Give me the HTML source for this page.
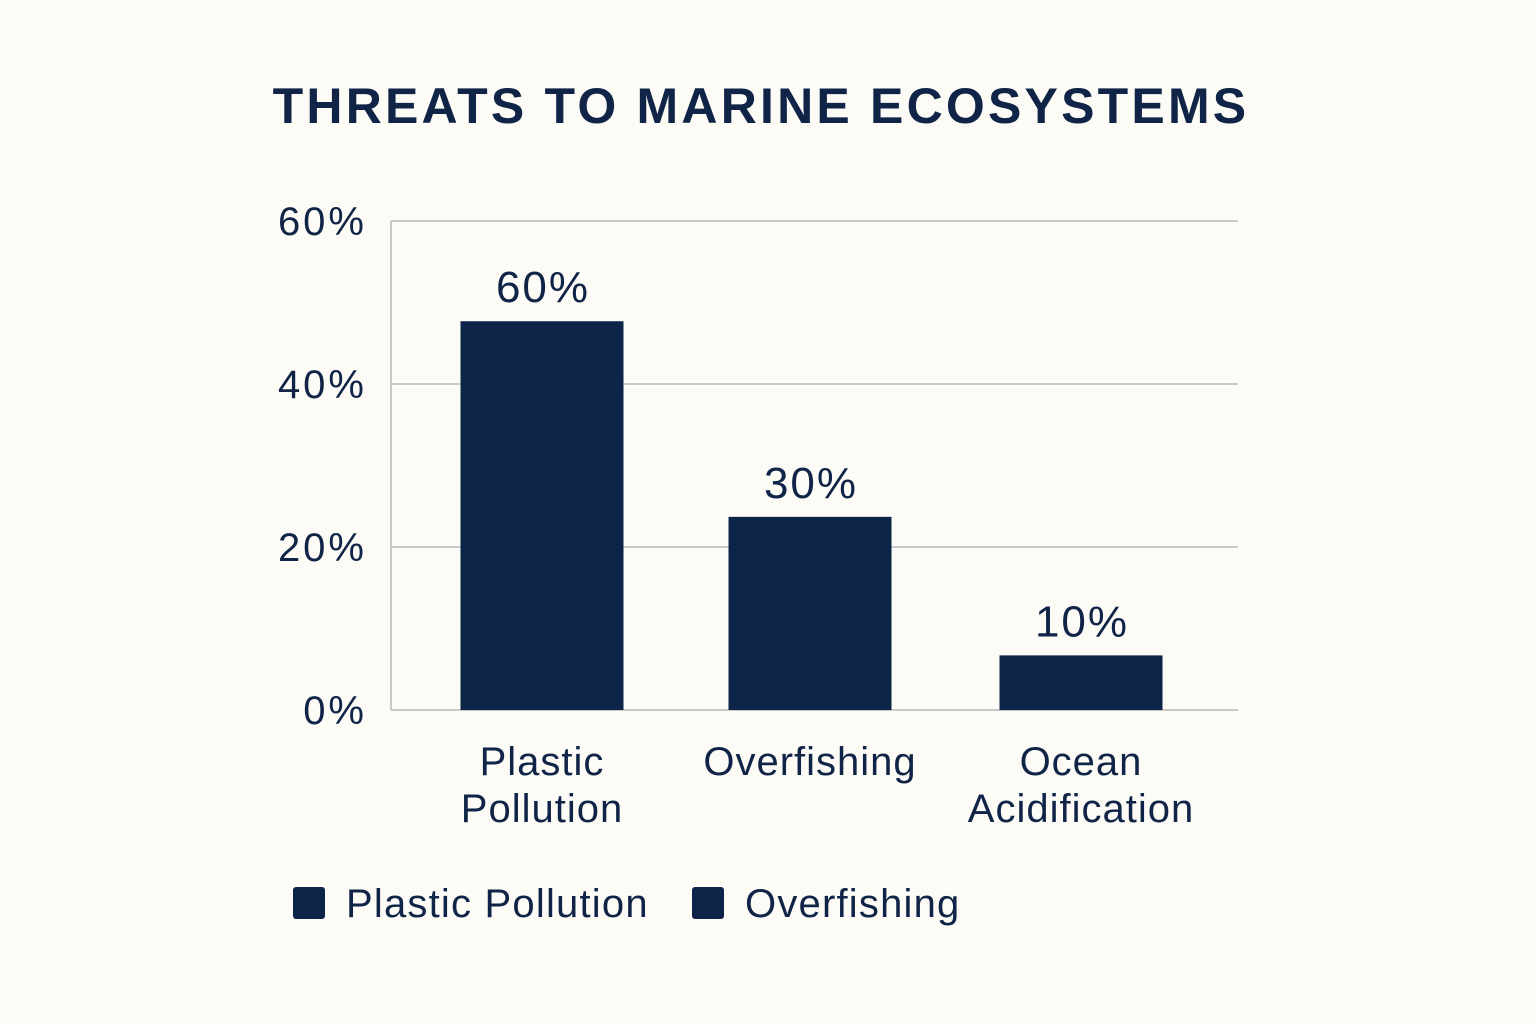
<!DOCTYPE html>
<html><head><meta charset="utf-8"><style>
html,body{margin:0;padding:0;background:#fcfbf6;}
svg{display:block;font-family:"Liberation Sans",sans-serif;}
</style></head><body>
<svg id="chart" width="1536" height="1024" viewBox="0 0 1536 1024">
<rect width="1536" height="1024" fill="#fcfbf6"/>
<text x="761" y="123" text-anchor="middle" font-size="50" font-weight="bold" letter-spacing="3.2" fill="#0f2447">THREATS TO MARINE ECOSYSTEMS</text>
<g id="grid"></g>
<g id="bars"></g>
<g>
<rect x="293" y="887" width="32" height="32" rx="3" fill="#0b2447"/>
<text x="346" y="917" font-size="40" letter-spacing="1.2" fill="#0f2447">Plastic Pollution</text>
<rect x="692" y="887" width="32" height="32" rx="3" fill="#0b2447"/>
<text x="745" y="917" font-size="40" letter-spacing="1.2" fill="#0f2447">Overfishing</text>
</g>
</svg>
<script>
const categories = [["Plastic","Pollution"],["Overfishing"],["Ocean","Acidification"]];
const values = [47.7, 23.7, 6.7];
const valueLabels = ["60%","30%","10%"];
const ticks = [0,20,40,60];
const tickLabels = ["0%","20%","40%","60%"];
const NS="http://www.w3.org/2000/svg";
const x0=391,x1=1238,yBase=710,yTop=221,vMax=60;
const y=v=>yBase-(v/vMax)*(yBase-yTop);
const centers=[542,810,1081], bw=163;
const grid=document.getElementById('grid'), bars=document.getElementById('bars');
function mk(t,a,p){const e=document.createElementNS(NS,t);for(const k in a)e.setAttribute(k,a[k]);p.appendChild(e);return e;}
ticks.forEach((t,i)=>{
  const l=mk('line',{x1:x0,x2:x1,y1:y(t),y2:y(t),stroke:'#c9c9c9','stroke-width':2},grid);
  
  
  const tx=mk('text',{x:367,y:y(t)+14,'text-anchor':'end','font-size':40,'letter-spacing':3,fill:'#0f2447'},grid);
  tx.textContent=tickLabels[i];
  
  
});
const ax=mk('line',{x1:x0,x2:x0,y1:yTop,y2:yBase,stroke:'#c9c9c9','stroke-width':2},grid);


values.forEach((v,i)=>{
  const cx=centers[i];
  const r=mk('rect',{x:cx-bw/2,y:y(v),width:bw,height:yBase-y(v),fill:'#0b2447'},bars);
  
  
  const vl=mk('text',{x:cx+1,y:y(v)-19,'text-anchor':'middle','font-size':44,'letter-spacing':2,fill:'#0f2447'},bars);
  vl.textContent=valueLabels[i];
  
  
  categories[i].forEach((line,j)=>{
    const c=mk('text',{x:cx,y:775+j*47,'text-anchor':'middle','font-size':40,'letter-spacing':1,fill:'#0f2447'},bars);
    c.textContent=line;
    
    
  });
});
</script>
</body></html>
